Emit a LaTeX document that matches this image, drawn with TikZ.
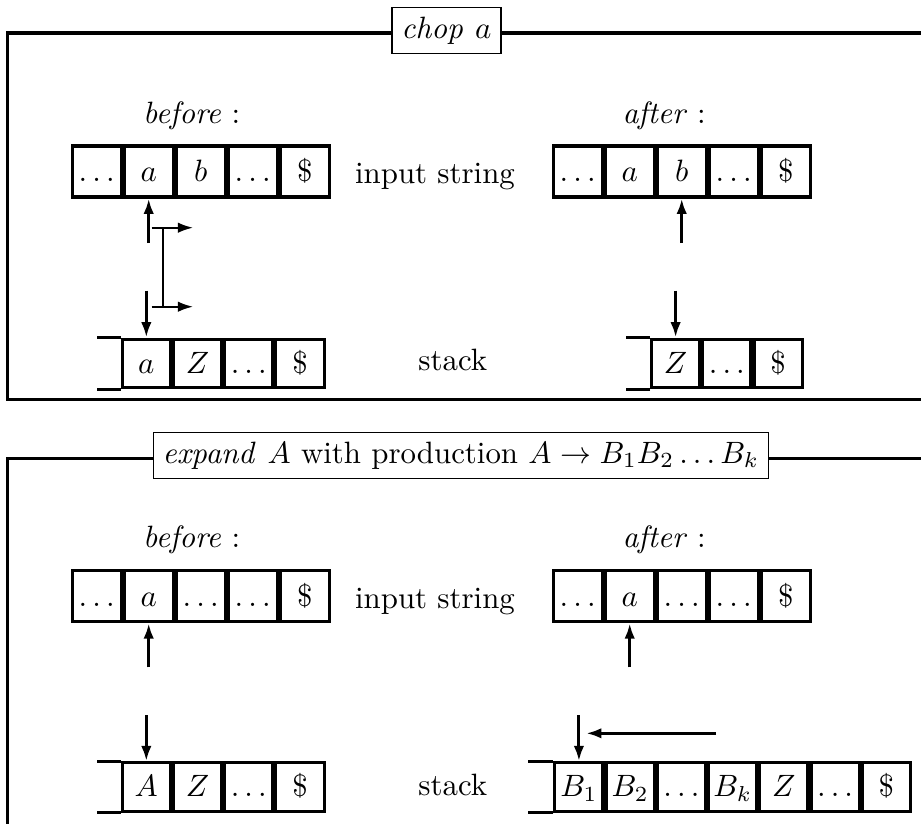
\documentclass[tikz,border=0pt]{standalone}
\usetikzlibrary{arrows.meta,calc}
\begin{document}
\begin{tikzpicture}[x=0.324pt,y=-0.324pt,
  cell/.style={draw,line width=1pt,minimum width=15.85pt,minimum height=16.5pt,
    inner sep=0pt,text height=8pt,text depth=1.6pt,anchor=west},
  scell/.style={cell,minimum width=15.6pt,minimum height=15.7pt},
  frame/.style={line width=1pt},
  lbl/.style={draw,line width=0.5pt,inner sep=3pt},
  arr/.style={line width=1pt,-{Latex[length=5pt,width=3.4pt]}},
  brk/.style={line width=0.75pt},
  brkarr/.style={brk,-{Latex[length=5pt,width=3.4pt]}},
  txt/.style={anchor=base,inner sep=0pt}
]
\useasboundingbox (0,0) rectangle (921,823);

% ---------------- chop a ----------------
\node[lbl] (chop) at (446.5,30.5) {$\mathit{chop}\ a$};
\coordinate (c1l) at (7.5,33);
\coordinate (c1bl) at (7.5,399.5);
\coordinate (c1br) at (930,399.5);
\coordinate (c1tr) at (930,33);
\draw[frame] (chop.west |- c1l) -- (c1l) -- (c1bl) -- (c1br);
\draw[frame] (chop.east |- c1tr) -- (c1tr);

\node[txt] (cbef) at (191.7,123.3) {$\mathit{before}:$};
\node[txt] (caft) at (664,123.3) {$\mathit{after}:$};
\node[txt] (cin) at (435,183) {input string};
\node[txt] (cst) at (452.8,370.7) {stack};

% input before
\node[cell] (ca1) at (70.7,171.5) {$\ldots$};
\node[cell] (ca2) at (ca1.east) {$a$};
\node[cell] (ca3) at (ca2.east) {$b$};
\node[cell] (ca4) at (ca3.east) {$\ldots$};
\node[cell] (ca5) at (ca4.east) {\$};
% stack before
\node[scell] (cs1) at (120.7,363.3) {$a$};
\node[scell] (cs2) at (cs1.east) {$Z$};
\node[scell] (cs3) at (cs2.east) {$\ldots$};
\node[scell] (cs4) at (cs3.east) {\$};
\draw[line width=1pt] (cs1.north west) -- ++(-24,0);
\draw[line width=1pt] (cs1.south west) -- ++(-24,0);
% read and stack heads
\coordinate (cu) at (ca2.south |- 0,243);
\coordinate (cd) at (cs1.north |- 0,290.7);
\draw[arr] (cu) -- (ca2.south);
\draw[arr] (cd) -- (cs1.north);
% both heads move one step
\coordinate (bt0) at (151.7,227.7);
\coordinate (bt1) at (193.3,227.7);
\coordinate (bb0) at (151.7,306.7);
\coordinate (bb1) at (193.3,306.7);
\coordinate (bvt) at (163.3,227.7);
\coordinate (bvb) at (163.3,306.7);
\draw[brkarr] (bt0) -- (bt1);
\draw[brkarr] (bb0) -- (bb1);
\draw[brk] (bvt) -- (bvb);

% input after
\node[cell] (cb1) at (551.7,171.5) {$\ldots$};
\node[cell] (cb2) at (cb1.east) {$a$};
\node[cell] (cb3) at (cb2.east) {$b$};
\node[cell] (cb4) at (cb3.east) {$\ldots$};
\node[cell] (cb5) at (cb4.east) {\$};
% stack after
\node[scell] (ct1) at (650,363.3) {$Z$};
\node[scell] (ct2) at (ct1.east) {$\ldots$};
\node[scell] (ct3) at (ct2.east) {\$};
\draw[line width=1pt] (ct1.north west) -- ++(-24.3,0);
\draw[line width=1pt] (ct1.south west) -- ++(-24.3,0);
\coordinate (cu2) at (cb3.south |- 0,243);
\coordinate (cd2) at (ct1.north |- 0,290.7);
\draw[arr] (cu2) -- (cb3.south);
\draw[arr] (cd2) -- (ct1.north);

% ---------------- expand ----------------
\node[lbl] (expd) at (460.8,455.5) {$\mathit{expand}\ A$ with production $A\rightarrow B_1B_2\ldots B_k$};
\coordinate (e1l) at (7.5,458.3);
\coordinate (e1bl) at (7.5,830);
\coordinate (e1tr) at (930,458.3);
\draw[frame] (expd.west |- e1l) -- (e1l) -- (e1bl);
\draw[frame] (expd.east |- e1tr) -- (e1tr);

\node[txt] (ebef) at (191.7,547.5) {$\mathit{before}:$};
\node[txt] (eaft) at (664,547.5) {$\mathit{after}:$};
\node[txt] (ein) at (435,608.3) {input string};
\node[txt] (est) at (452.8,795.7) {stack};

% input before
\node[cell] (ea1) at (70.7,596.2) {$\ldots$};
\node[cell] (ea2) at (ea1.east) {$a$};
\node[cell] (ea3) at (ea2.east) {$\ldots$};
\node[cell] (ea4) at (ea3.east) {$\ldots$};
\node[cell] (ea5) at (ea4.east) {\$};
% stack before
\node[scell] (es1) at (120.7,787) {$A$};
\node[scell] (es2) at (es1.east) {$Z$};
\node[scell] (es3) at (es2.east) {$\ldots$};
\node[scell] (es4) at (es3.east) {\$};
\draw[line width=1pt] (es1.north west) -- ++(-24,0);
\draw[line width=1pt] (es1.south west) -- ++(-24,0);
\coordinate (eu) at (ea2.south |- 0,667.3);
\coordinate (ed) at (es1.north |- 0,715);
\draw[arr] (eu) -- (ea2.south);
\draw[arr] (ed) -- (es1.north);

% input after
\node[cell] (eb1) at (551.7,596.2) {$\ldots$};
\node[cell] (eb2) at (eb1.east) {$a$};
\node[cell] (eb3) at (eb2.east) {$\ldots$};
\node[cell] (eb4) at (eb3.east) {$\ldots$};
\node[cell] (eb5) at (eb4.east) {\$};
% stack after
\node[scell] (et1) at (553.3,787) {$B_1$};
\node[scell] (et2) at (et1.east) {$B_2$};
\node[scell] (et3) at (et2.east) {$\ldots$};
\node[scell] (et4) at (et3.east) {$B_k$};
\node[scell] (et5) at (et4.east) {$Z$};
\node[scell] (et6) at (et5.east) {$\ldots$};
\node[scell] (et7) at (et6.east) {\$};
\draw[line width=1pt] (et1.north west) -- ++(-25,0);
\draw[line width=1pt] (et1.south west) -- ++(-25,0);
\coordinate (eu2) at (eb2.south |- 0,667.3);
\coordinate (ed2) at (et1.north |- 0,715);
\draw[arr] (eu2) -- (eb2.south);
\draw[arr] (ed2) -- (et1.north);
\coordinate (el0) at (716,733.3);
\coordinate (el1) at (586,733.3);
\draw[arr] (el0) -- (el1);
\end{tikzpicture}
\end{document}
